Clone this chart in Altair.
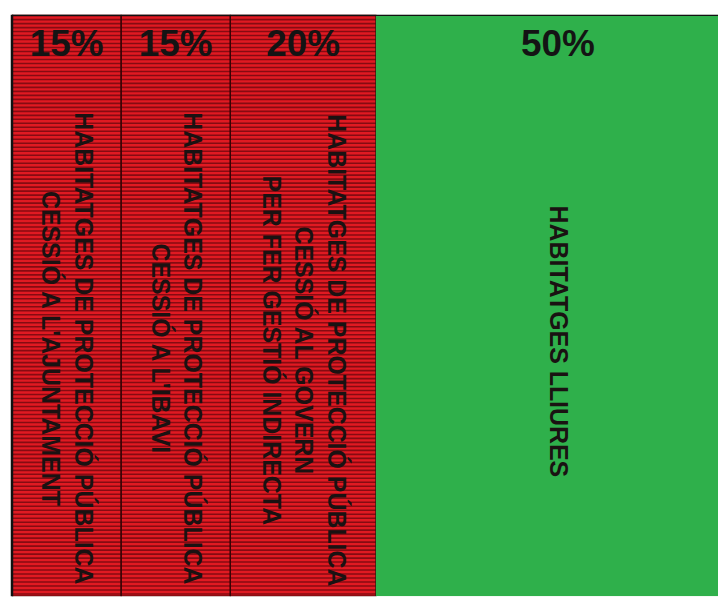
import altair as alt
import pandas as pd

# ---- data ----
shares = [15, 15, 20, 50]
pct_labels = ["15%", "15%", "20%", "50%"]
descriptions = [
    "HABITATGES DE PROTECCIÓ PÚBLICA\nCESSIÓ A L'AJUNTAMENT",
    "HABITATGES DE PROTECCIÓ PÚBLICA\nCESSIÓ A L'IBAVI",
    "HABITATGES DE PROTECCIÓ PÚBLICA\nCESSIÓ AL GOVERN\nPER FER GESTIÓ INDIRECTA",
    "HABITATGES LLIURES",
]
kinds = ["protegit", "protegit", "protegit", "lliure"]
order = [1, 2, 3, 4]

df = pd.DataFrame({
    "share": shares,
    "pct": pct_labels,
    "description": descriptions,
    "kind": kinds,
    "order": order,
    "row": ["total"] * len(shares),
})

W, H = 708, 583
LH = 32.5
DOMAIN_MAX = 97

RED = "#e01a22"
DARK = "#860b12"
GREEN = "#2fb04b"

xs = alt.Scale(domain=[0, DOMAIN_MAX], nice=False)
y_band = alt.Y("row:N", axis=None, scale=alt.Scale(paddingInner=0, paddingOuter=0))

base = alt.Chart(df).transform_window(
    x1="sum(share)", sort=[alt.SortField("order")], frame=[None, 0]
).transform_calculate(
    x0="datum.x1 - datum.share",
    mid="datum.x1 - datum.share / 2",
    nlines="split(datum.description, '\\n').length",
)

reds = base.transform_filter("datum.kind == 'protegit'")

red_fill = reds.mark_rect(fill=RED, clip=True).encode(
    x=alt.X("x0:Q", scale=xs, axis=None), x2="x1:Q", y=y_band
)

# horizontal stripe texture: a dashed vertical rule as wide as each segment
stripes = reds.mark_rule(
    color=DARK, strokeDash=[1.6, 2.4], strokeCap="butt", clip=True
).encode(
    x=alt.X("mid:Q", scale=xs, axis=None),
    size=alt.Size("share:Q", scale=alt.Scale(domain=[0, DOMAIN_MAX], range=[0, W], zero=True), legend=None),
)

red_edges = reds.mark_rect(
    fillOpacity=0, stroke="#3a0305", strokeWidth=1.3, clip=True
).encode(
    x=alt.X("x0:Q", scale=xs, axis=None), x2="x1:Q", y=y_band
)

green = base.transform_filter("datum.kind == 'lliure'").mark_rect(
    fill=GREEN, clip=True
).encode(
    x=alt.X("x0:Q", scale=xs, axis=None), x2="x1:Q", y=y_band
)

frame = base.transform_aggregate(
    total="sum(share)", groupby=["row"]
).transform_calculate(start="0")

top_rule = frame.mark_rule(color="#111111", strokeWidth=2.5, clip=True).encode(
    x=alt.X("start:Q", scale=xs, axis=None), x2="total:Q",
    y=alt.Y("row:N", bandPosition=0, axis=None),
)
left_rule = frame.mark_rule(color="#111111", strokeWidth=2.5).encode(
    x=alt.X("start:Q", scale=xs, axis=None)
)

def desc_layer(n, dx):
    return base.transform_filter(f"datum.nlines == {n}").mark_text(
        angle=90, lineBreak="\n", fontSize=25, fontWeight="bold",
        font="Liberation Sans", lineHeight=LH, align="center", baseline="middle",
        dx=dx, dy=-(n - 1) * LH / 2, color="#1a1212"
    ).encode(
        x=alt.X("mid:Q", scale=xs, axis=None),
        y=alt.Y("row:N", axis=None),
        text="description:N",
    )

pct = base.mark_text(
    fontSize=37, fontWeight="bold", font="Liberation Sans",
    align="center", baseline="middle", dy=30, color="#141414"
).encode(
    x=alt.X("mid:Q", scale=xs, axis=None),
    y=alt.Y("row:N", bandPosition=0, axis=None),
    text="pct:N",
)

chart = alt.layer(
    red_fill, stripes, red_edges, green, top_rule, left_rule,
    desc_layer(1, 36), desc_layer(2, 43), desc_layer(3, 45), pct
).properties(
    width=W, height=H,
    padding={"left": 2, "top": 4, "right": 0, "bottom": 0},
    background="white",
).configure_view(stroke=None)

chart.save("out.html", embed_options={"renderer": "svg", "actions": False})
